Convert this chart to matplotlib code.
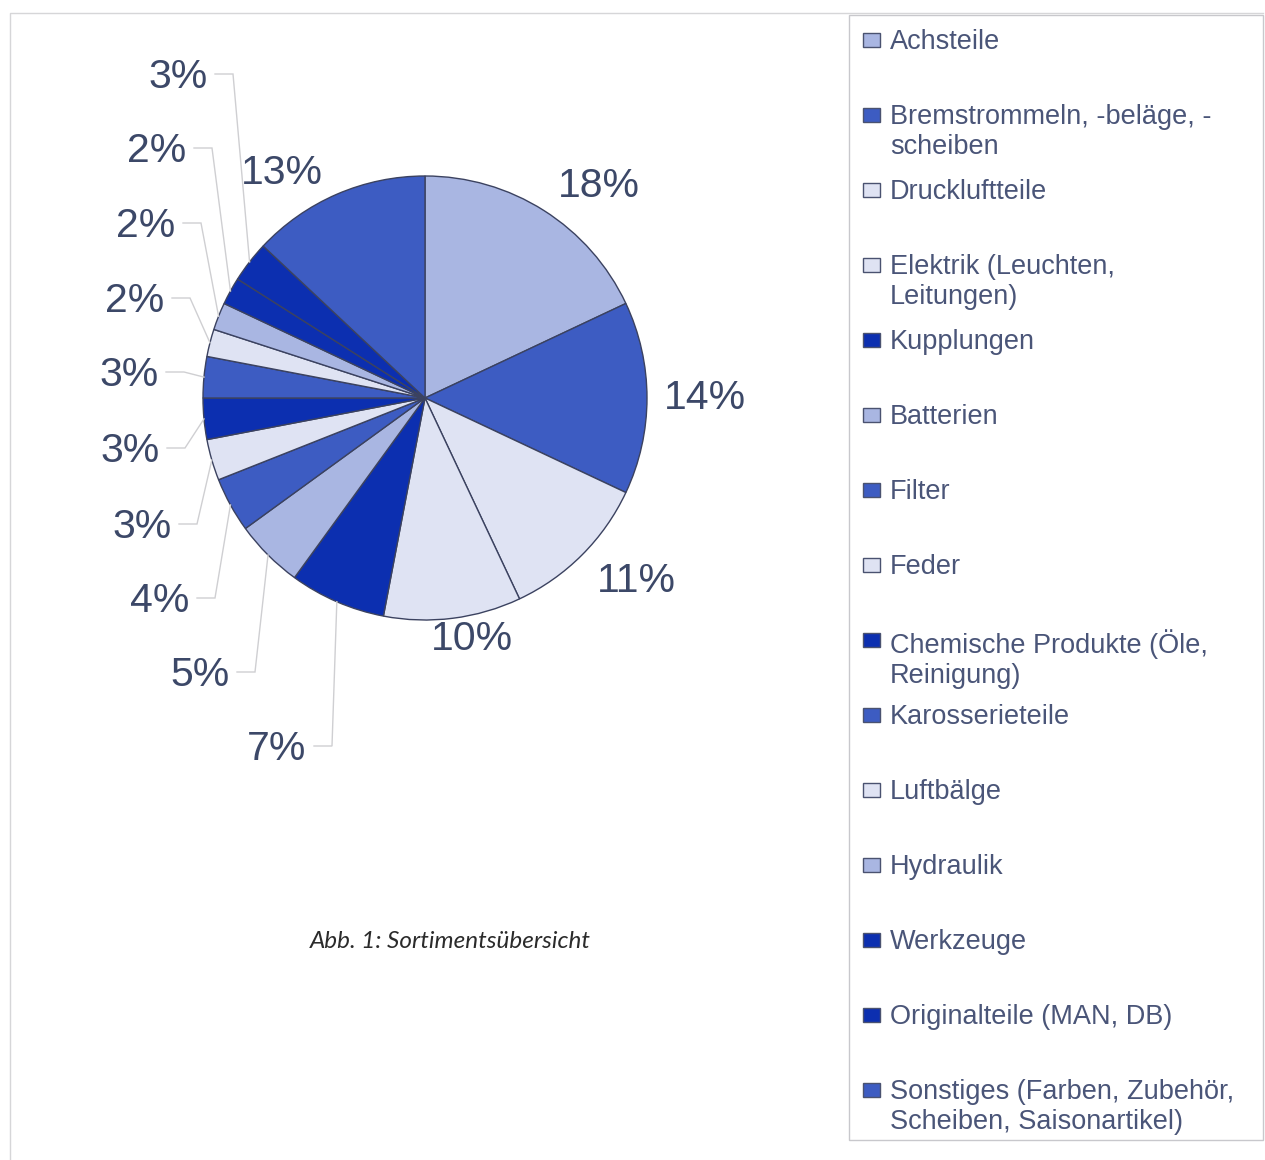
import matplotlib
matplotlib.use("Agg")
import matplotlib.pyplot as plt
from matplotlib.patches import Rectangle
import numpy as np

plt.rcParams['font.family'] = ['Liberation Sans', 'DejaVu Sans']

# product range shares in percent, clockwise from 12 o'clock
categories = [
    "Achsteile",
    "Bremstrommeln, -beläge, -\nscheiben",
    "Druckluftteile",
    "Elektrik (Leuchten,\nLeitungen)",
    "Kupplungen",
    "Batterien",
    "Filter",
    "Feder",
    "Chemische Produkte (Öle,\nReinigung)",
    "Karosserieteile",
    "Luftbälge",
    "Hydraulik",
    "Werkzeuge",
    "Originalteile (MAN, DB)",
    "Sonstiges (Farben, Zubehör,\nScheiben, Saisonartikel)",
]
shares = [18, 14, 11, 10, 7, 5, 4, 3, 3, 3, 2, 2, 2, 3, 13]
tones = ["light", "mid", "pale", "pale", "dark", "light", "mid", "pale",
         "dark", "mid", "pale", "light", "dark", "dark", "mid"]

palette = {"light": "#a9b6e2", "mid": "#3d5cc2", "pale": "#dfe3f3", "dark": "#0c2fb0"}
colors = [palette[t] for t in tones]

# label centres in pixel space (y measured from the top)
label_pos = [(599, 186), (705, 398), (636, 581), (472, 639), (277, 749),
             (200, 675), (160, 601), (142, 527), (130, 451), (129, 375),
             (135, 301), (146, 226), (157, 151), (178, 77), (282, 173)]

W, H = 1265, 1160
TXT = "#3c4868"


def Y(y):
    return H - y


fig = plt.figure(figsize=(W / 100, H / 100), dpi=100)
ax = fig.add_axes([0, 0, 1, 1])

cx, cy, r = 425, Y(398), 222
wedges, _ = ax.pie(shares, colors=colors, startangle=90, counterclock=False,
                   center=(cx, cy), radius=r,
                   wedgeprops=dict(edgecolor="#3b4260", linewidth=1.0))
ax.set_xlim(0, W)
ax.set_ylim(0, H)
ax.set_aspect("equal")
ax.axis("off")

for w, v, (lx, ly) in zip(wedges, shares, label_pos):
    ax.text(lx, Y(ly), f"{v}%", fontsize=29.5, color=TXT,
            ha="center", va="center")
    if v <= 7:
        mid = np.deg2rad((w.theta1 + w.theta2) / 2)
        ex, ey = cx + r * np.cos(mid), cy + r * np.sin(mid)
        x0 = lx + 37
        x1 = lx + 55
        yl = Y(ly) + 3
        ax.plot([x0, x1, ex], [yl, yl, ey], color="#cfcfd2", lw=1.0,
                solid_joinstyle="miter")

# legend
ax.add_patch(Rectangle((849, Y(1140)), 414, 1125, fill=False,
                       edgecolor="#c8c8cc", lw=1.0))
for i, (name, c) in enumerate(zip(categories, colors)):
    yc = 40 + 75 * i
    ax.add_patch(Rectangle((863, Y(yc) - 7), 17, 14, facecolor=c,
                           edgecolor="#4a5270", lw=1.0))
    ax.text(890, Y(yc - 11), name, fontsize=19.5, color="#4a5578",
            ha="left", va="top", linespacing=1.2)

# outer chart frame
ax.plot([10, 10, W - 2], [0, Y(13), Y(13)], color="#d6d6d8", lw=1.0)

ax.text(450, Y(942), "Abb. 1: Sortimentsübersicht", fontsize=17.5,
        family="Lato", style="italic", color="#2b2b2b",
        ha="center", va="center")

fig.savefig("out.png", dpi=100)
